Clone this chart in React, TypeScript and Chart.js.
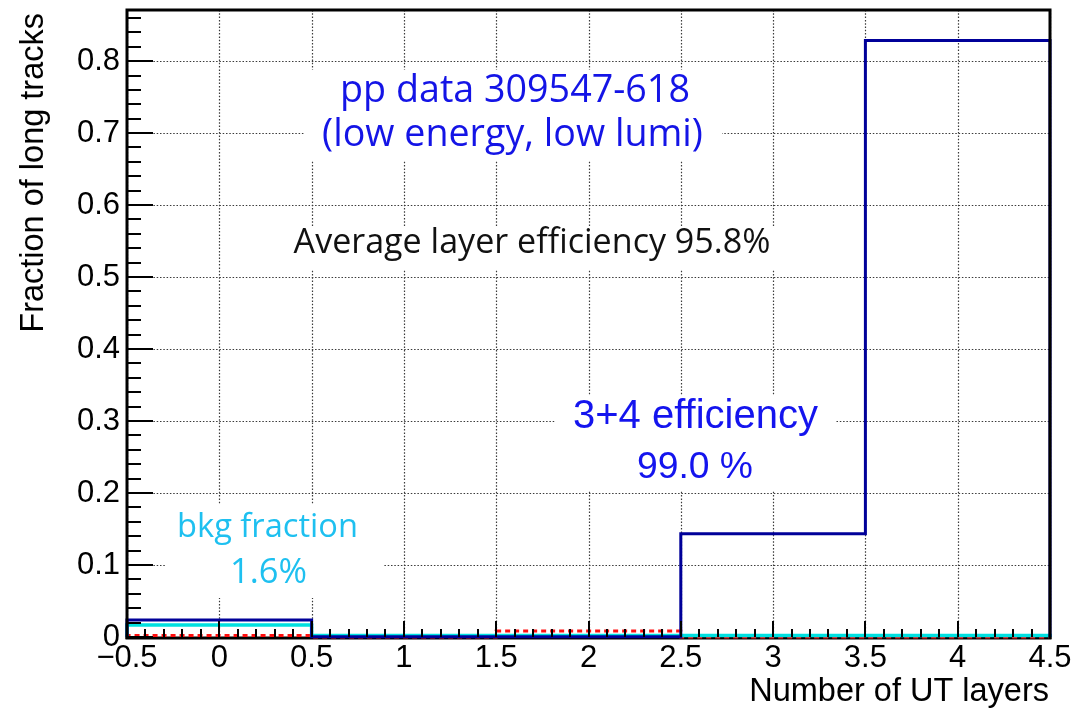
import React, { useEffect, useRef } from 'react';
import { Chart, registerables } from 'chart.js';

Chart.register(...registerables);

// ---------- data ----------
const binEdges = [-0.5, 0.5, 1.5, 2.5, 3.5, 4.5];
const allTracksValues = [0.0236, 0.0005, 0.0005, 0.1435, 0.8288]; // navy
const bkgValues = [0.0167, 0.002, 0.002, 0.002, 0.002]; // cyan
const redValues = [0.002, 0.0, 0.0083, 0.0, 0.0]; // red dotted

const xTickValues = [-0.5, 0, 0.5, 1, 1.5, 2, 2.5, 3, 3.5, 4, 4.5];
const xTickLabels = ['\u22120.5', '0', '0.5', '1', '1.5', '2', '2.5', '3', '3.5', '4', '4.5'];
const yTickValues = [0, 0.1, 0.2, 0.3, 0.4, 0.5, 0.6, 0.7, 0.8];
const yTickLabels = ['0', '0.1', '0.2', '0.3', '0.4', '0.5', '0.6', '0.7', '0.8'];

const xTitle = 'Number of UT layers';
const yTitle = 'Fraction of long tracks';

const runText = ['pp data 309547-618', '(low energy, low lumi)'];
const avgText = ['Average layer efficiency 95.8%'];
const effText = ['3+4 efficiency', '99.0 %'];
const bkgText = ['bkg fraction', '1.6%'];

const X_MIN = -0.5;
const X_MAX = 4.5;
const Y_MIN = 0;
const Y_MAX = 0.871;

// ---------- layout / style ----------
const AXIS_FONT = '"Liberation Sans", Arial, Helvetica, sans-serif';
const NOTE_FONT = '"Open Sans", "Noto Sans", sans-serif';

type NoteLine = { text: string; cx: number; base: number; w: number; color: string; family: string };
type NoteBox = { x0: number; y0: number; x1: number; y1: number; lines: NoteLine[] };

const notes: NoteBox[] = [
  {
    x0: 305, y0: 70, x1: 722, y1: 160,
    lines: [
      { text: runText[0], cx: 515, base: 102, w: 350, color: '#1414e6', family: NOTE_FONT },
      { text: runText[1], cx: 512.5, base: 146, w: 381, color: '#1414e6', family: NOTE_FONT },
    ],
  },
  {
    x0: 283, y0: 226, x1: 781, y1: 270,
    lines: [{ text: avgText[0], cx: 532, base: 253, w: 477, color: '#111111', family: NOTE_FONT }],
  },
  {
    x0: 556, y0: 395, x1: 836, y1: 490,
    lines: [
      { text: effText[0], cx: 695.5, base: 428, w: 245, color: '#1414ee', family: AXIS_FONT },
      { text: effText[1], cx: 695, base: 478, w: 116, color: '#1414ee', family: AXIS_FONT },
    ],
  },
  {
    x0: 165, y0: 505, x1: 383, y1: 598,
    lines: [
      { text: bkgText[0], cx: 267.5, base: 536.7, w: 181, color: '#1ec0f0', family: NOTE_FONT },
      { text: bkgText[1], cx: 268.5, base: 583, w: 77, color: '#1ec0f0', family: NOTE_FONT },
    ],
  },
];

function histPoints(vals: number[]) {
  const pts: { x: number; y: number }[] = [{ x: binEdges[0], y: 0 }];
  vals.forEach((v, i) => pts.push({ x: binEdges[i], y: v }));
  pts.push({ x: binEdges[binEdges.length - 1], y: vals[vals.length - 1] });
  pts.push({ x: binEdges[binEdges.length - 1], y: 0 });
  return pts;
}

function fitSize(ctx: CanvasRenderingContext2D, text: string, family: string, w: number) {
  ctx.font = `100px ${family}`;
  const m = ctx.measureText(text).width;
  return (100 * w) / m;
}

const decor = {
  id: 'decor',
  beforeDatasetsDraw(chart: any) {
    const { ctx, chartArea: a, scales } = chart;
    const x = scales.x;
    const y = scales.y;
    ctx.save();
    // dotted grid
    ctx.strokeStyle = '#3a3a3a';
    ctx.lineWidth = 1.2;
    ctx.setLineDash([1.5, 1.8]);
    xTickValues.forEach((v) => {
      const px = Math.round(x.getPixelForValue(v)) + 0.5;
      ctx.beginPath();
      ctx.moveTo(px, a.top);
      ctx.lineTo(px, a.bottom);
      ctx.stroke();
    });
    yTickValues.forEach((v) => {
      const py = Math.round(y.getPixelForValue(v)) + 0.5;
      ctx.beginPath();
      ctx.moveTo(a.left, py);
      ctx.lineTo(a.right, py);
      ctx.stroke();
    });
    ctx.setLineDash([]);
    // annotation boxes
    notes.forEach((n) => {
      ctx.fillStyle = '#ffffff';
      ctx.fillRect(n.x0, n.y0, n.x1 - n.x0, n.y1 - n.y0);
      n.lines.forEach((l) => {
        const size = fitSize(ctx, l.text, l.family, l.w);
        ctx.font = `${size}px ${l.family}`;
        ctx.fillStyle = l.color;
        ctx.textAlign = 'center';
        ctx.textBaseline = 'alphabetic';
        ctx.fillText(l.text, l.cx, l.base);
      });
    });
    // bottom axis line
    ctx.strokeStyle = '#000';
    ctx.lineWidth = 3;
    ctx.beginPath();
    ctx.moveTo(a.left - 1.5, a.bottom + 1);
    ctx.lineTo(a.right + 1.5, a.bottom + 1);
    ctx.stroke();
    ctx.restore();
  },
  afterDatasetsDraw(chart: any) {
    const { ctx, chartArea: a, scales } = chart;
    const x = scales.x;
    const y = scales.y;
    ctx.save();
    ctx.strokeStyle = '#000';
    ctx.lineWidth = 3;
    ctx.beginPath();
    ctx.moveTo(a.left, a.bottom + 2);
    ctx.lineTo(a.left, a.top);
    ctx.lineTo(a.right, a.top);
    ctx.lineTo(a.right, a.bottom + 2);
    ctx.stroke();

    // ticks
    ctx.lineWidth = 2;
    for (let k = 0; k <= 43; k++) {
      const v = k * 0.02;
      if (v > Y_MAX) break;
      const py = Math.round(y.getPixelForValue(v));
      const len = k % 5 === 0 ? 26 : 14;
      ctx.beginPath();
      ctx.moveTo(a.left, py);
      ctx.lineTo(a.left + len, py);
      ctx.stroke();
    }
    for (let k = -5; k <= 45; k++) {
      const v = k / 10;
      const px = Math.round(x.getPixelForValue(v));
      const len = k % 5 === 0 ? 16 : 8;
      ctx.beginPath();
      ctx.moveTo(px, a.bottom);
      ctx.lineTo(px, a.bottom - len);
      ctx.stroke();
    }

    // axis titles
    ctx.fillStyle = '#000';
    ctx.font = `32.5px ${AXIS_FONT}`;
    ctx.textAlign = 'right';
    ctx.textBaseline = 'alphabetic';
    ctx.fillText(xTitle, a.right - 1, 701);
    ctx.translate(43, a.top + 3);
    ctx.rotate(-Math.PI / 2);
    ctx.fillText(yTitle, 0, 0);
    ctx.restore();
  },
};

function zeroPad(s: any) {
  s.paddingTop = 0;
  s.paddingBottom = 0;
  s.paddingLeft = 0;
  s.paddingRight = 0;
}

export default function App() {
  const ref = useRef<HTMLCanvasElement>(null);
  useEffect(() => {
    if (!ref.current) return;
    const chart = new Chart(ref.current, {
      type: 'line',
      data: {
        datasets: [
          {
            label: 'all',
            data: histPoints(allTracksValues),
            borderColor: '#000099',
            borderWidth: 3,
            stepped: 'before',
            pointRadius: 0,
            fill: false,
            clip: false,
          },
          {
            label: 'bkg',
            data: histPoints(bkgValues),
            borderColor: '#00e0e0',
            borderWidth: 3.5,
            stepped: 'before',
            pointRadius: 0,
            fill: false,
            clip: false,
          },
          {
            label: 'red',
            data: histPoints(redValues),
            borderColor: '#ff1010',
            borderWidth: 3,
            borderDash: [5, 4],
            stepped: 'before',
            pointRadius: 0,
            fill: false,
            clip: false,
          },
        ],
      } as any,
      options: {
        animation: false,
        responsive: false,
        devicePixelRatio: 1,
        events: [],
        layout: { padding: { top: 10, right: 26, left: 0, bottom: 0 } },
        plugins: {
          legend: { display: false },
          tooltip: { enabled: false },
          title: { display: false },
        },
        scales: {
          x: {
            type: 'linear',
            min: X_MIN,
            max: X_MAX,
            afterBuildTicks: (s: any) => {
              s.ticks = xTickValues.map((v) => ({ value: v }));
            },
            afterFit: (s: any) => {
              s.height = 73;
              zeroPad(s);
            },
            grid: { display: false, drawTicks: false },
            border: { display: false },
            ticks: {
              autoSkip: false,
              maxRotation: 0,
              minRotation: 0,
              padding: 3,
              color: '#000',
              font: { family: AXIS_FONT, size: 31 },
              callback: (_v: any, i: number) => xTickLabels[i],
            },
          },
          y: {
            type: 'linear',
            min: Y_MIN,
            max: Y_MAX,
            afterBuildTicks: (s: any) => {
              s.ticks = yTickValues.map((v) => ({ value: v }));
            },
            afterFit: (s: any) => {
              s.width = 127;
              zeroPad(s);
            },
            grid: { display: false, drawTicks: false },
            border: { display: false },
            ticks: {
              autoSkip: false,
              padding: 7,
              color: '#000',
              font: { family: AXIS_FONT, size: 31 },
              callback: (_v: any, i: number) => yTickLabels[i],
            },
          },
        },
      } as any,
      plugins: [decor],
    });
    return () => chart.destroy();
  }, []);
  return (
    <div style={{ position: 'fixed', left: 0, top: 0, width: 1076, height: 710, background: '#fff' }}>
      <canvas ref={ref} width={1076} height={710} style={{ display: 'block', width: 1076, height: 710 }} />
    </div>
  );
}
